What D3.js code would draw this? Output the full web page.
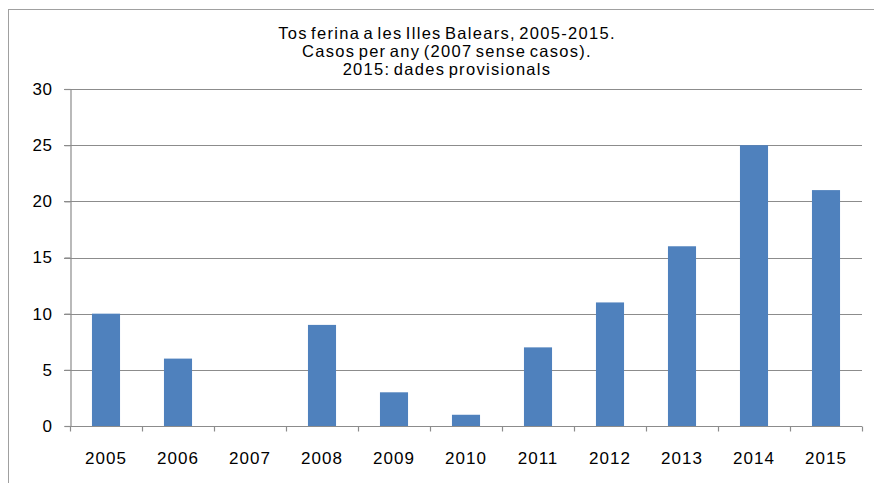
<!DOCTYPE html>
<html>
<head>
<meta charset="utf-8">
<script src="https://cdn.jsdelivr.net/npm/d3@7"></script>
<style>
  body { margin: 0; background: #fff; }
  text { font-family: "Liberation Sans", Arial, sans-serif; fill: #000; }
</style>
</head>
<body>
<div id="chart"></div>
<script>
(function() {
  var width = 874,
      height = 483;

  var years = ["2005","2006","2007","2008","2009","2010","2011","2012","2013","2014","2015"];
  var cases = [10, 6, 0, 9, 3, 1, 7, 11, 16, 25, 21];
  var yTicks = [0, 5, 10, 15, 20, 25, 30];
  var titleLines = [
    "Tos ferina a les Illes Balears, 2005-2015.",
    "Casos per any (2007 sense casos).",
    "2015: dades provisionals"
  ];

  var margin = {top: 89, right: 12, bottom: 57, left: 70};

  var svg = d3.select("#chart")
    .append("svg")
    .attr("width", width)
    .attr("height", height);

  // chart border (cut off at right and bottom like the screenshot)
  svg.append("rect")
    .attr("x", 8.5)
    .attr("y", 9.5)
    .attr("width", width)
    .attr("height", height)
    .attr("fill", "none")
    .attr("stroke", "#a0a0a0")
    .attr("stroke-width", 1);

  var x = d3.scaleBand()
    .domain(years)
    .range([margin.left, width - margin.right])
    .paddingInner(0.61)
    .paddingOuter(0.305);

  var xOuter = d3.scaleBand()
    .domain(years)
    .range([margin.left, width - margin.right]);

  var y = d3.scaleLinear()
    .domain([0, 30])
    .range([height - margin.bottom, margin.top]);

  // gridlines
  svg.selectAll(".grid")
    .data(yTicks.filter(function(d) { return d > 0; }))
    .enter().append("line")
    .attr("class", "grid")
    .attr("x1", margin.left - 6)
    .attr("x2", width - margin.right)
    .attr("y1", function(d) { return Math.round(y(d)) + 0.5; })
    .attr("y2", function(d) { return Math.round(y(d)) + 0.5; })
    .attr("stroke", "#8c8c8c")
    .attr("stroke-width", 1.2);

  // bars
  svg.selectAll(".bar")
    .data(cases)
    .enter().append("rect")
    .attr("class", "bar")
    .attr("x", function(d, i) { return x(years[i]); })
    .attr("width", x.bandwidth())
    .attr("y", function(d) { return y(d); })
    .attr("height", function(d) { return y(0) - y(d); })
    .attr("fill", "#4f81bd");

  // y axis
  var yAxis = svg.append("g")
    .attr("transform", "translate(" + (margin.left + 0.5) + ",0)")
    .call(d3.axisLeft(y).tickValues(yTicks).tickSize(6).tickPadding(12));
  yAxis.select(".domain").attr("stroke", "#8c8c8c").attr("stroke-width", 1.2);
  yAxis.selectAll(".tick line").attr("stroke", "#8c8c8c").attr("stroke-width", 1.2);
  yAxis.selectAll("text")
    .style("font-size", "17px")
    .style("letter-spacing", "0.6px")
    .attr("fill", "#000");

  // x axis with ticks between categories
  var xAxis = svg.append("g")
    .attr("transform", "translate(0," + (Math.round(y(0)) + 0.5) + ")");
  xAxis.append("line")
    .attr("x1", margin.left)
    .attr("x2", width - margin.right)
    .attr("stroke", "#8c8c8c")
    .attr("stroke-width", 1.2);
  xAxis.selectAll(".xtick")
    .data(years.concat(["end"]))
    .enter().append("line")
    .attr("class", "xtick")
    .attr("x1", function(d, i) { return margin.left + i * xOuter.step() + 0.5; })
    .attr("x2", function(d, i) { return margin.left + i * xOuter.step() + 0.5; })
    .attr("y1", 0)
    .attr("y2", 5)
    .attr("stroke", "#8c8c8c")
    .attr("stroke-width", 1.2);
  xAxis.selectAll(".xlabel")
    .data(years)
    .enter().append("text")
    .attr("class", "xlabel")
    .attr("x", function(d) { return xOuter(d) + xOuter.bandwidth() / 2; })
    .attr("y", 37)
    .attr("text-anchor", "middle")
    .style("font-size", "17px")
    .style("letter-spacing", "1px")
    .text(function(d) { return d; });

  // title
  svg.selectAll(".title")
    .data(titleLines)
    .enter().append("text")
    .attr("class", "title")
    .attr("x", 447)
    .attr("y", function(d, i) { return 39 + i * 18; })
    .attr("text-anchor", "middle")
    .style("font-size", "16.5px")
    .style("letter-spacing", "1.3px")
    .style("word-spacing", "-2.5px")
    .text(function(d) { return d; });
})();
</script>
</body>
</html>
